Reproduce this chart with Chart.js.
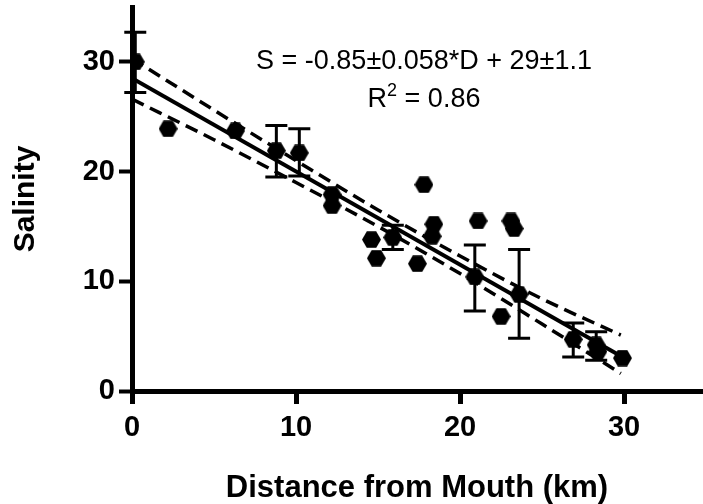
<!DOCTYPE html>
<html>
<head>
<meta charset="utf-8">
<script src="https://cdn.jsdelivr.net/npm/chart.js@4.4.0/dist/chart.umd.min.js"></script>
<style>
  body { margin: 0; background: #fff; }
  #wrap { width: 703px; height: 504px; }
</style>
</head>
<body>
<div id="wrap"><canvas id="myChart" width="703" height="504"></canvas></div>
<script>
// measured points (km from mouth, salinity)
var distance = [0.2, 2.2, 6.3, 8.8, 10.2, 12.2, 12.2, 14.6, 14.9, 15.9, 17.4, 17.8, 18.4, 18.3, 21.1, 23.1, 23.3, 20.9, 22.5, 23.6, 26.9, 28.3, 28.4, 29.9];
var salinity = [30.0, 23.9, 23.7, 21.9, 21.7, 17.9, 16.9, 13.8, 12.1, 14.0, 11.6, 18.8, 15.2, 14.1, 15.5, 15.5, 14.8, 10.4, 6.8, 8.8, 4.7, 4.2, 3.6, 3.0];
// error bar ends (null = no bar)
var errLow  = [27.2, null, null, 19.5, 19.6, null, null, null, null, 12.9, null, null, null, null, null, null, null, 7.3, null, 4.8, 3.1, 2.8, null, null];
var errHigh = [32.7, null, null, 24.2, 23.9, null, null, null, null, 15.1, null, null, null, null, null, null, null, 13.3, null, 12.9, 6.2, 5.4, null, null];

// fit line and 95% bands
var fitX = [0, 29.9];
var fitY = [28.5, 3.1];
var bandX = [0, 5, 10, 15, 20, 25, 29.8];
var bandUpper = [30.3, 25.6, 21.0, 16.5, 12.3, 8.4, 5.1];
var bandLower = [26.6, 22.9, 19.0, 15.0, 10.7, 6.1, 1.6];

var xTicks = [0, 10, 20, 30];
var yTicks = [0, 10, 20, 30];

function pts(xs, ys) {
  return xs.map(function (x, i) { return { x: x, y: ys[i] }; });
}

// hexagon marker
var hex = document.createElement('canvas');
hex.width = 19; hex.height = 17;
var hc = hex.getContext('2d');
hc.fillStyle = '#000';
hc.beginPath();
hc.moveTo(0, 8.5); hc.lineTo(4.8, 0.3); hc.lineTo(14.2, 0.3);
hc.lineTo(19, 8.5); hc.lineTo(14.2, 16.7); hc.lineTo(4.8, 16.7);
hc.closePath();
hc.fill();

var errorBars = {
  id: 'errorBars',
  beforeDatasetsDraw: function (chart) {
    var c = chart.ctx, xs = chart.scales.x, ys = chart.scales.y;
    c.save();
    c.strokeStyle = '#000';
    c.lineWidth = 3;
    distance.forEach(function (d, i) {
      if (errLow[i] == null) return;
      var px = xs.getPixelForValue(d);
      var lo = ys.getPixelForValue(errLow[i]);
      var hi = ys.getPixelForValue(errHigh[i]);
      c.beginPath();
      c.moveTo(px, lo); c.lineTo(px, hi);
      c.moveTo(px - 11, lo); c.lineTo(px + 11, lo);
      c.moveTo(px - 11, hi); c.lineTo(px + 11, hi);
      c.stroke();
    });
    c.restore();
  }
};

var equation = {
  id: 'equation',
  afterDraw: function (chart) {
    var c = chart.ctx;
    c.save();
    c.fillStyle = '#000';
    c.textBaseline = 'middle';
    c.textAlign = 'center';
    c.font = '27px "Liberation Sans", Arial, sans-serif';
    c.fillText('S = -0.85\u00b10.058*D + 29\u00b11.1', 424, 62);
    // R^2 line
    c.textAlign = 'left';
    var w1 = c.measureText('R').width;
    var w3 = c.measureText(' = 0.86').width;
    c.font = '18px "Liberation Sans", Arial, sans-serif';
    var w2 = c.measureText('2').width;
    var x0 = 424 - (w1 + w2 + w3) / 2;
    c.font = '27px "Liberation Sans", Arial, sans-serif';
    c.fillText('R', x0, 100);
    c.fillText(' = 0.86', x0 + w1 + w2, 100);
    c.font = '18px "Liberation Sans", Arial, sans-serif';
    c.fillText('2', x0 + w1, 91);
    c.restore();
  }
};

function noPad(s) {
  s.paddingTop = 0; s.paddingBottom = 0; s.paddingLeft = 0; s.paddingRight = 0;
}

var ctx = document.getElementById("myChart").getContext('2d');
var myChart = new Chart(ctx, {
  type: 'scatter',
  data: {
    datasets: [{
      data: pts(distance, salinity),
      pointStyle: hex,
      pointRadius: 9,
      showLine: false,
      order: 0
    }, {
      data: pts(fitX, fitY),
      showLine: true,
      borderColor: '#000',
      borderWidth: 4,
      pointRadius: 0,
      order: 1
    }, {
      data: pts(bandX, bandUpper),
      showLine: true,
      borderColor: '#000',
      borderWidth: 3.5,
      borderDash: [13, 7],
      cubicInterpolationMode: 'monotone',
      pointRadius: 0,
      order: 2
    }, {
      data: pts(bandX, bandLower),
      showLine: true,
      borderColor: '#000',
      borderWidth: 3.5,
      borderDash: [13, 7],
      cubicInterpolationMode: 'monotone',
      pointRadius: 0,
      order: 2
    }]
  },
  options: {
    responsive: false,
    animation: false,
    layout: { autoPadding: false, padding: { top: 7, right: 1, left: 0, bottom: 0 } },
    plugins: { legend: { display: false }, tooltip: { enabled: false } },
    scales: {
      x: {
        type: 'linear',
        min: 0,
        max: 34.75,
        afterFit: function (s) { s.height = 113; noPad(s); },
        afterBuildTicks: function (s) { s.ticks = xTicks.map(function (v) { return { value: v }; }); },
        grid: { display: true, drawOnChartArea: false, drawTicks: true, tickLength: 13, tickWidth: 5, tickColor: '#000' },
        border: { display: true, width: 5, color: '#000' },
        ticks: { color: '#000', padding: 7, font: { family: '"Liberation Sans", Arial', size: 29, weight: 'bold' } },
        title: { display: true, text: 'Distance from Mouth (km)', color: '#000', padding: { top: 0, bottom: -3 },
                 font: { family: '"Liberation Sans", Arial', size: 31, weight: 'bold' } }
      },
      y: {
        type: 'linear',
        min: 0,
        max: 35,
        afterFit: function (s) { s.width = 132; noPad(s); },
        afterBuildTicks: function (s) { s.ticks = yTicks.map(function (v) { return { value: v }; }); },
        grid: { display: true, drawOnChartArea: false, drawTicks: true, tickLength: 13, tickWidth: 4, tickColor: '#000' },
        border: { display: true, width: 5, color: '#000' },
        ticks: { color: '#000', padding: 4, font: { family: '"Liberation Sans", Arial', size: 29, weight: 'bold' } },
        title: { display: true, text: 'Salinity', color: '#000', padding: { top: 8, bottom: 0 },
                 font: { family: '"Liberation Sans", Arial', size: 30, weight: 'bold' } }
      }
    }
  },
  plugins: [errorBars, equation]
});
</script>
</body>
</html>
